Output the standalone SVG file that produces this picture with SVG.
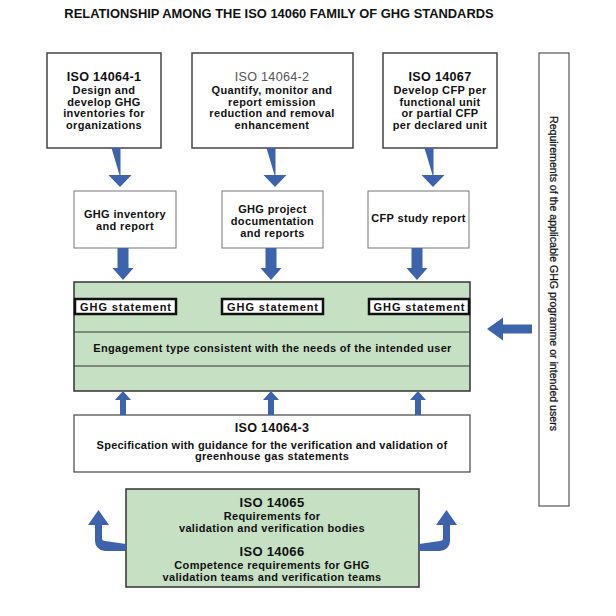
<svg xmlns="http://www.w3.org/2000/svg" width="616" height="616" viewBox="0 0 616 616">
<style>
text{font-family:"Liberation Sans",Arial,sans-serif;font-weight:bold;fill:#111;text-anchor:middle}
.t{font-size:11px;letter-spacing:0.35px}
.h{font-size:13px;letter-spacing:0.3px}
.box{fill:#fff;stroke:#444;stroke-width:1.5}
.mbox{fill:#fff;stroke:#777;stroke-width:1}
.green{fill:#c6e0c4;stroke:#333;stroke-width:1.5}
.stmt{fill:#fff;stroke:#111;stroke-width:2.5}
.s{font-size:11px;letter-spacing:0.9px}
.arr{fill:#3d63ad}
</style>
<text x="279" y="18" style="font-size:12.9px">RELATIONSHIP AMONG THE ISO 14060 FAMILY OF GHG STANDARDS</text>

<g id="iso14064-1">
<rect class="box" x="47" y="53" width="114" height="95"/>
<text class="h" x="104" y="80.5" style="font-size:12.6px">ISO 14064-1</text>
<text class="t" x="104" y="94">Design and</text>
<text class="t" x="104" y="105.5">develop GHG</text>
<text class="t" x="104" y="117">inventories for</text>
<text class="t" x="104" y="128.5">organizations</text>
</g>
<g id="iso14064-2">
<rect class="box" x="192" y="53" width="161" height="95"/>
<text class="h" x="272" y="80.5" style="font-size:12.6px;font-weight:normal;fill:#555">ISO 14064-2</text>
<text class="t" x="272" y="94">Quantify, monitor and</text>
<text class="t" x="272" y="105.5">report emission</text>
<text class="t" x="272" y="117">reduction and removal</text>
<text class="t" x="272" y="128.5">enhancement</text>
</g>
<g id="iso14067">
<rect class="box" x="383" y="53" width="114" height="95"/>
<text class="h" x="440" y="80.5" style="font-size:12.6px">ISO 14067</text>
<text class="t" x="440" y="94">Develop CFP per</text>
<text class="t" x="440" y="105.5">functional unit</text>
<text class="t" x="440" y="117">or partial CFP</text>
<text class="t" x="440" y="128.5">per declared unit</text>
</g>

<g id="inventory-report">
<rect class="mbox" x="74" y="191" width="102" height="57"/>
<text class="t" x="125" y="218">GHG inventory</text>
<text class="t" x="125" y="229.5">and report</text>
</g>
<g id="project-docs">
<rect class="mbox" x="222" y="191" width="101" height="57"/>
<text class="t" x="272.5" y="213">GHG project</text>
<text class="t" x="272.5" y="225">documentation</text>
<text class="t" x="272.5" y="237">and reports</text>
</g>
<g id="cfp-report">
<rect class="mbox" x="368" y="191" width="101" height="57"/>
<text class="t" x="418.5" y="222">CFP study report</text>
</g>

<g id="engagement">
<rect class="green" x="74" y="282" width="396" height="109"/>
<line x1="74" y1="332" x2="470" y2="332" stroke="#333" stroke-width="1"/>
<line x1="74" y1="366" x2="470" y2="366" stroke="#333" stroke-width="1"/>
<rect class="stmt" x="75" y="299" width="101" height="15"/>
<text class="s" x="126" y="310.5">GHG statement</text>
<rect class="stmt" x="222" y="299" width="101" height="15"/>
<text class="s" x="273" y="310.5">GHG statement</text>
<rect class="stmt" x="369" y="299" width="100" height="15"/>
<text class="s" x="419.5" y="310.5">GHG statement</text>
<text class="t" x="272.5" y="352" style="letter-spacing:0.34px">Engagement type consistent with the needs of the intended user</text>
</g>

<g id="iso14064-3">
<rect class="mbox" x="74" y="415" width="396" height="57" style="stroke:#444;stroke-width:1.2"/>
<text class="h" x="272" y="431.5" style="font-size:12.6px">ISO 14064-3</text>
<text class="t" x="272" y="449" style="letter-spacing:0.25px">Specification with guidance for the verification and validation of</text>
<text class="t" x="272" y="460">greenhouse gas statements</text>
</g>

<g id="iso14065-14066">
<rect class="green" x="126" y="489" width="293" height="98"/>
<text class="h" x="272" y="507">ISO 14065</text>
<text class="t" x="272" y="519.5">Requirements for</text>
<text class="t" x="272" y="531.5">validation and verification bodies</text>
<text class="h" x="272" y="556">ISO 14066</text>
<text class="t" x="272" y="568.5">Competence requirements for GHG</text>
<text class="t" x="272" y="580.5">validation teams and verification teams</text>
</g>

<g id="programme-requirements">
<rect x="539" y="53" width="30" height="453" fill="#fff" stroke="#555" stroke-width="1.2"/>
<text transform="translate(550,273.5) rotate(90)" style="font-weight:normal;font-size:10.6px;stroke:#111;stroke-width:0.25">Requirements of the applicable GHG programme or intended users</text>
</g>

<g id="connectors">
<path class="arr" d="M111.5 148h9v27h11l-11.5 12l-11.5-12h11z"/>
<path class="arr" d="M266.5 148h9v27h11l-11.5 12l-11.5-12h11z"/>
<path class="arr" d="M424.5 148h9v27h11l-11.5 12l-11.5-12h11z"/>
<path class="arr" d="M117.5 248h11v20h5l-10.5 12l-10.5-12h5z"/>
<path class="arr" d="M265.5 248h11v20h5l-10.5 12l-10.5-12h5z"/>
<path class="arr" d="M411.5 248h11v20h5l-10.5 12l-10.5-12h5z"/>
<path class="arr" d="M120 415v-15h-5l8-9l8 9h-5v15z"/>
<path class="arr" d="M268 415v-15h-5l8-9l8 9h-5v15z"/>
<path class="arr" d="M415 415v-15h-5l8-9l8 9h-5v15z"/>
<path class="arr" d="M532 324.5v9h-29v7l-16-11.5l16-11.5v7z"/>
<path class="arr" d="M126 544v7h-21a10 10 0 0 1-10-10v-16h-7l10.5-15l10.5 15h-7v13a3 3 0 0 0 3 3z"/>
<path class="arr" d="M419 544v7h21a10 10 0 0 0 10-10v-16h7l-10.5-15l-10.5 15h7v13a3 3 0 0 1-3 3z"/>
</g>
</svg>
